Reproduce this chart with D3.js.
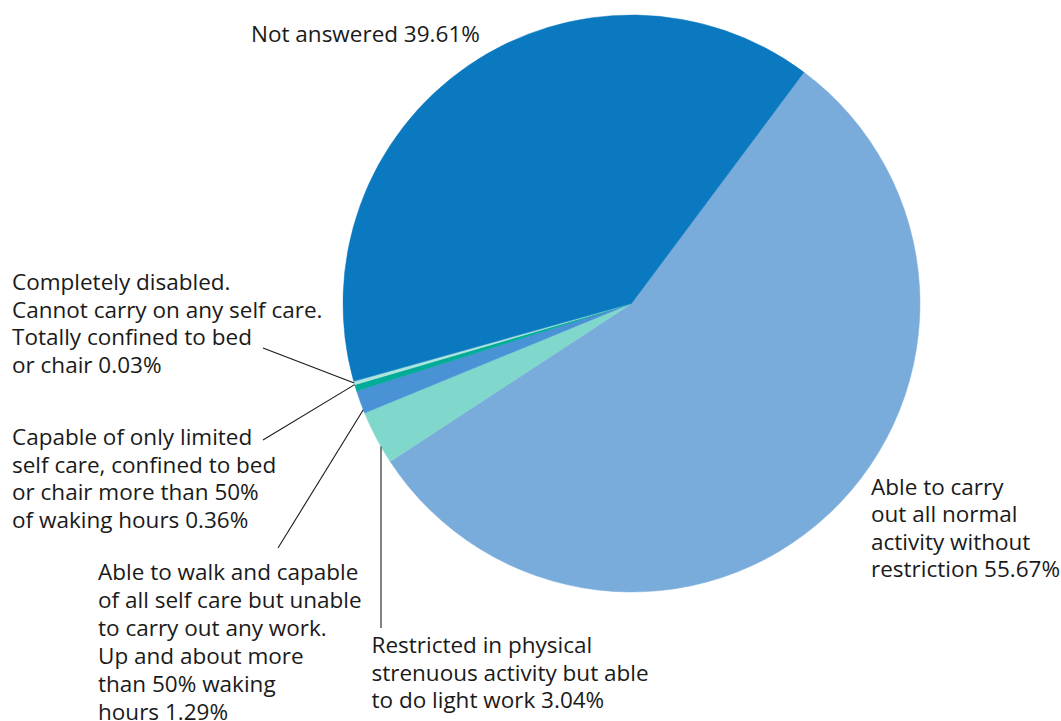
<!DOCTYPE html>
<html>
<head>
<meta charset="utf-8">
<script src="https://cdn.jsdelivr.net/npm/d3@7"></script>
<style>
  html, body { margin: 0; padding: 0; background: #ffffff; }
  svg { display: block; }
  text { font-family: "Open Sans", "DejaVu Sans", sans-serif; fill: #1a1a1a; }
</style>
</head>
<body>
<svg id="chart" width="1061" height="721"></svg>
<script>
// ---- Data ----
const categories = [
  "Able to carry out all normal activity without restriction",
  "Restricted in physical strenuous activity but able to do light work",
  "Able to walk and capable of all self care but unable to carry out any work. Up and about more than 50% waking hours",
  "Capable of only limited self care, confined to bed or chair more than 50% of waking hours",
  "Completely disabled. Cannot carry on any self care. Totally confined to bed or chair",
  "Not answered"
];
const values = [55.67, 3.04, 1.29, 0.36, 0.03, 39.61];
const colors = ["#7aacdb", "#80d8cc", "#4a92d6", "#00ab97", "#ade5de", "#0a79bf"];
const labelLines = [
  ["Able to carry", "out all normal", "activity without", "restriction 55.67%"],
  ["Restricted in physical", "strenuous activity but able", "to do light work 3.04%"],
  ["Able to walk and capable", "of all self care but unable", "to carry out any work.", "Up and about more", "than 50% waking", "hours 1.29%"],
  ["Capable of only limited", "self care, confined to bed", "or chair more than 50%", "of waking hours 0.36%"],
  ["Completely disabled.", "Cannot carry on any self care.", "Totally confined to bed", "or chair 0.03%"],
  ["Not answered 39.61%"]
];

// ---- Layout ----
const cx = 631.5, cy = 303.5, R = 288.5;
const minDisplayShare = 0.2; // smallest slices are drawn at a visible minimum width
const startDeg = 36.7;

const svg = d3.select("#chart");
const g = svg.append("g").attr("transform", `translate(${cx},${cy})`);

const data = values.map((v, i) => ({ name: categories[i], value: v, color: colors[i], lines: labelLines[i], i }));

const pie = d3.pie()
  .sort(null)
  .value(d => Math.max(d.value, minDisplayShare))
  .startAngle(startDeg * Math.PI / 180)
  .endAngle(startDeg * Math.PI / 180 + 2 * Math.PI);

const arcs = pie(data);
const arc = d3.arc().innerRadius(0).outerRadius(R);

g.selectAll("path.slice")
  .data(arcs)
  .join("path")
  .attr("class", "slice")
  .attr("d", arc)
  .attr("fill", d => d.data.color)
  .attr("stroke", d => d.data.color)
  .attr("stroke-width", 0.5);

// point on the rim at angle a (d3 convention: 0 = 12 o'clock, clockwise)
function rim(a) { return [cx + R * Math.sin(a), cy - R * Math.cos(a)]; }

// label placement: [x, firstBaseline, lineStep]
const labelPos = [
  [871, 494.5, 27.5],
  [371.5, 653, 27.5],
  [98, 580, 28],
  [12, 445, 27.5],
  [12, 290, 27.5],
  [251, 42, 27.5]
];

const labels = svg.append("g");
data.forEach((d, i) => {
  const [x, y0, step] = labelPos[i];
  const t = labels.append("text")
    .attr("x", x).attr("y", y0)
    .attr("font-size", 22.5);
  d.lines.forEach((ln, k) => {
    t.append("tspan").attr("x", x).attr("y", y0 + k * step).text(ln);
  });
});

// leader lines
const leaders = svg.append("g").attr("stroke", "#1a1a1a").attr("stroke-width", 1.1).attr("fill", "none");
const midA = a => (a.startAngle + a.endAngle) / 2;

// 0.03%
{
  const p = rim(midA(arcs[4]));
  leaders.append("line").attr("x1", 263).attr("y1", 348).attr("x2", p[0]).attr("y2", p[1]);
}
// 0.36%
{
  const p = rim(midA(arcs[3]) + 0.012);
  leaders.append("line").attr("x1", 263).attr("y1", 440).attr("x2", p[0]).attr("y2", p[1]);
}
// 1.29%
{
  const p = rim(arcs[2].startAngle + (arcs[2].endAngle - arcs[2].startAngle) * 0.15);
  leaders.append("line").attr("x1", 278).attr("y1", 548).attr("x2", p[0]).attr("y2", p[1]);
}
// 3.04% - vertical line up to the rim
{
  const lx = 381;
  const ly = cy + Math.sqrt(R * R - (lx - cx) * (lx - cx));
  leaders.append("line").attr("x1", lx).attr("y1", 628).attr("x2", lx).attr("y2", ly);
}
</script>
</body>
</html>
